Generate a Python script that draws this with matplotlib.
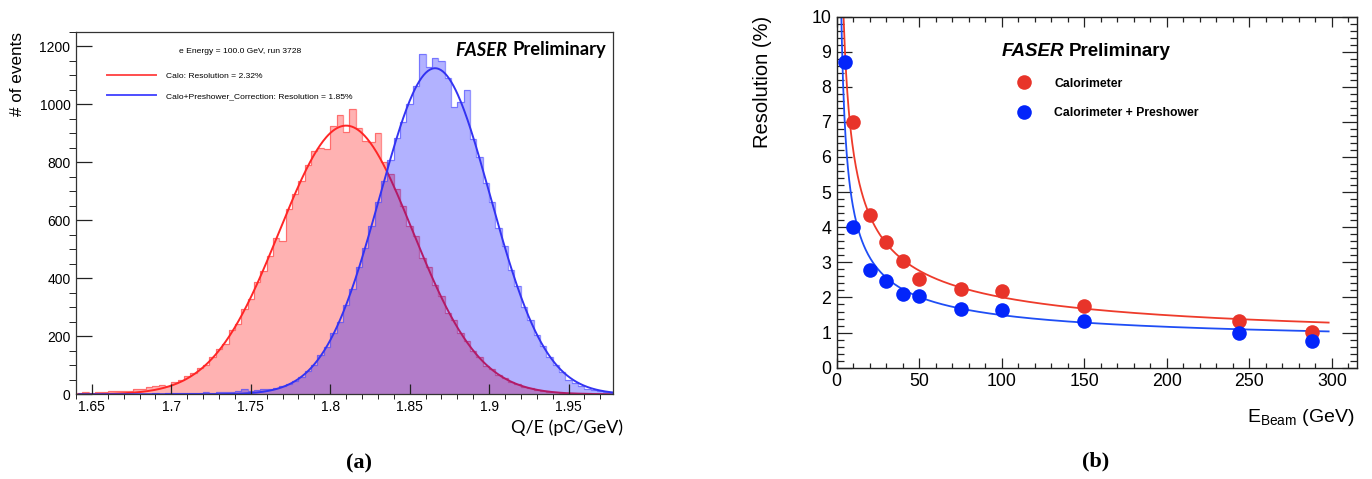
import numpy as np
import matplotlib
matplotlib.use('Agg')
import matplotlib.pyplot as plt
from matplotlib.lines import Line2D
from matplotlib.ticker import MultipleLocator, FuncFormatter

W, H = 1372, 479
plt.rcParams['font.family'] = ['Liberation Sans', 'DejaVu Sans']
plt.rcParams['mathtext.fontset'] = 'custom'
plt.rcParams['mathtext.rm'] = 'Liberation Sans'

# ---- (a) Q/E histograms, bins of 0.004 starting at 1.640 ----
q_lo = 1.640
q_bin = 0.004
calo_counts = [6, 8, 6, 9, 8, 11, 10, 13, 12, 20, 17, 24, 28, 33, 30, 42, 48, 64, 72, 92,
               100, 130, 158, 175, 222, 243, 296, 330, 388, 425, 478, 540, 530, 640, 690,
               735, 790, 838, 850, 845, 925, 965, 905, 985, 920, 875, 870, 900, 800, 760,
               710, 650, 580, 545, 470, 440, 378, 340, 282, 255, 210, 184, 148, 130, 98,
               88, 66, 56, 42, 36, 25, 22, 15, 13, 9, 8, 6, 5, 4, 3, 3, 2, 1, 1, 1]
pre_counts = [1, 0, 1, 0, 1, 1, 0, 1, 2, 1, 2, 2, 3, 2, 3, 4, 3, 6, 5, 4,
              7, 6, 8, 7, 9, 10, 20, 12, 14, 17, 20, 22, 28, 36, 47, 60, 82, 100, 136, 162,
              212, 250, 308, 362, 440, 505, 580, 665, 735, 810, 885, 940, 1000, 1065, 1175,
              1130, 1160, 1150, 1090, 990, 1010, 1050, 880, 820, 730, 665, 575, 510, 430,
              372, 300, 258, 205, 165, 130, 100, 78, 50, 38, 28, 20, 15, 12, 8, 5]

# gaussian fit results: amplitude, mean, sigma
calo_fit = (927, 1.810, 0.042)
pre_fit = (1125, 1.866, 0.0348)

# ---- (b) resolution vs beam energy ----
e_calo = [10, 20, 30, 40, 50, 75, 100, 150, 244, 288]
res_calo = [7.0, 4.35, 3.58, 3.03, 2.53, 2.24, 2.18, 1.76, 1.33, 1.02]
e_pre = [5, 10, 20, 30, 40, 50, 75, 100, 150, 244, 288]
res_pre = [8.7, 4.0, 2.78, 2.48, 2.1, 2.04, 1.66, 1.64, 1.33, 0.98, 0.77]

# resolution fit: sqrt(a^2/E + b^2 + c^2/E^2)
calo_res_fit = (18.81, 0.678, 15.81)
pre_res_fit = (13.14, 0.696, 17.32)


def gauss(x, a, mu, s):
    return a * np.exp(-(x - mu) ** 2 / (2 * s ** 2))


def res_model(e, a, b, c):
    return np.sqrt(a ** 2 / e + b ** 2 + c ** 2 / e ** 2)


fig = plt.figure(figsize=(W / 100, H / 100), dpi=100)

# ------------------ panel (a) ------------------
ax1 = fig.add_axes([76 / W, 1 - 394.3 / H, (613 - 76) / W, (394.3 - 32) / H])
edges = q_lo + q_bin * np.arange(len(calo_counts) + 1)
xf = np.linspace(1.642, 1.978, 500)

ax1.stairs(calo_counts, edges, fill=True, color=(1, 0, 0, 0.3), lw=0, zorder=1)
ax1.stairs(calo_counts, edges, color=(1, 0.25, 0.25, 0.6), lw=0.9, zorder=1.1)
ax1.plot(xf, gauss(xf, *calo_fit), color=(1, 0.15, 0.15), lw=1.4, zorder=1.2)
ax1.stairs(pre_counts, edges, fill=True, color=(0, 0, 1, 0.3), lw=0, zorder=1.3)
ax1.stairs(pre_counts, edges, color=(0.3, 0.3, 1, 0.6), lw=0.9, zorder=1.4)
ax1.plot(xf, gauss(xf, *pre_fit), color=(0.2, 0.2, 0.95), lw=1.4, zorder=1.5)

ax1.set_xlim(1.64, 1.978)
ax1.set_ylim(0, 1250)
ax1.xaxis.set_major_locator(MultipleLocator(0.05))
ax1.xaxis.set_minor_locator(MultipleLocator(0.01))
ax1.yaxis.set_major_locator(MultipleLocator(200))
ax1.yaxis.set_minor_locator(MultipleLocator(50))
ax1.xaxis.set_major_formatter(FuncFormatter(lambda v, p: '%g' % round(v, 3)))
ax1.tick_params(direction='in', labelsize=10, width=0.9, color='#222222', pad=4)
ax1.tick_params(axis='x', which='major', length=7)
ax1.tick_params(axis='x', which='minor', length=3.6)
ax1.tick_params(axis='y', which='major', length=11.5)
ax1.tick_params(axis='y', which='minor', length=5.3)
for s in ax1.spines.values():
    s.set_color('#333333')
    s.set_linewidth(0.9)

fig.text(240 / W, 1 - 51.7 / H, 'e Energy = 100.0 GeV, run 3728', ha='center', va='center', fontsize=6.1)
h1 = [Line2D([], [], color=(1, 0.3, 0.3), lw=1.4), Line2D([], [], color=(0.3, 0.3, 1), lw=1.4)]
ax1.legend(h1, ['Calo: Resolution = 2.32%', 'Calo+Preshower_Correction: Resolution = 1.85%'],
           loc='center left', bbox_to_anchor=(106.7 / W, 1 - 86.2 / H),
           bbox_transform=fig.transFigure, frameon=False, fontsize=6.1, borderpad=0,
           borderaxespad=0, handlelength=5.8, handletextpad=1.2, labelspacing=1.45)

prelim = fig.text(606 / W, 1 - 50 / H, 'Preliminary', ha='right', va='center', fontsize=13.2,
                  fontweight='bold', family='Lato')
ax1.annotate('FASER', xy=(0, 0), xycoords=prelim, xytext=(-3.5, 0), textcoords='offset points',
             ha='right', va='bottom', fontsize=13.2, fontweight='bold', style='italic', family='Lato')

fig.text(18 / W, 1 - 74 / H, '# of events', rotation=90, ha='center', va='center', fontsize=12.3)
fig.text(623 / W, 1 - 428 / H, 'Q/E (pC/GeV)', ha='right', va='center', fontsize=13, family='Lato')
fig.text(359 / W, 1 - 463 / H, '(a)', ha='center', va='center', fontsize=16, fontweight='bold',
         family='Liberation Serif')

# ------------------ panel (b) ------------------
ax2 = fig.add_axes([836.7 / W, 1 - 367.7 / H, (1356.7 - 836.7) / W, (367.7 - 16.5) / H])
ef = np.linspace(2, 298, 800)
ax2.plot(ef, res_model(ef, *calo_res_fit), color='#EE3B2B', lw=1.3, zorder=2)
ax2.plot(ef, res_model(ef, *pre_res_fit), color='#1F4EF5', lw=1.3, zorder=2)
ax2.plot(e_calo, res_calo, 'o', ms=10.5, color='#E8342A', mec='none', zorder=3)
ax2.plot(e_pre, res_pre, 'o', ms=10.5, color='#0325FA', mec='none', zorder=3)

ax2.set_xlim(0, 315)
ax2.set_ylim(0, 10)
ax2.xaxis.set_major_locator(MultipleLocator(50))
ax2.xaxis.set_minor_locator(MultipleLocator(10))
ax2.yaxis.set_major_locator(MultipleLocator(1))
ax2.yaxis.set_minor_locator(MultipleLocator(0.2))
ax2.tick_params(direction='in', top=True, right=True, which='both', labelsize=12.8,
                width=0.9, color='#222222', pad=4)
ax2.tick_params(axis='x', which='major', length=7)
ax2.tick_params(axis='x', which='minor', length=3.3)
ax2.tick_params(axis='y', which='major', length=11)
ax2.tick_params(axis='y', which='minor', length=5)
for s in ax2.spines.values():
    s.set_color('#222222')
    s.set_linewidth(1.0)

h2 = [Line2D([], [], ls='none', marker='o', ms=10.5, color='#E8342A', mec='none'),
      Line2D([], [], ls='none', marker='o', ms=10.5, color='#0325FA', mec='none')]
ax2.legend(h2, ['Calorimeter', 'Calorimeter + Preshower'], loc='center left',
           bbox_to_anchor=(1016.3 / W, 1 - 98.3 / H), bbox_transform=fig.transFigure,
           frameon=False, prop={'size': 8.8, 'weight': 'bold'}, borderpad=0, borderaxespad=0,
           handlelength=1.2, handletextpad=1.9, labelspacing=1.4)

faser = fig.text(1001.7 / W, 1 - 51.7 / H, 'FASER', ha='left', va='center', fontsize=13.5,
                 fontweight='bold', style='italic')
ax2.annotate('Preliminary', xy=(1, 0), xycoords=faser, xytext=(3.5, 0), textcoords='offset points',
             ha='left', va='bottom', fontsize=13.5, fontweight='bold')

fig.text(762 / W, 1 - 82 / H, 'Resolution (%)', rotation=90, ha='center', va='center', fontsize=14.5)
fig.text(1355 / W, 1 - 418 / H, r'E$_{\mathrm{Beam}}$ (GeV)', ha='right', va='center', fontsize=14)
fig.text(1096 / W, 1 - 461 / H, '(b)', ha='center', va='center', fontsize=16, fontweight='bold',
         family='Liberation Serif')

fig.savefig('out.png', dpi=100)
